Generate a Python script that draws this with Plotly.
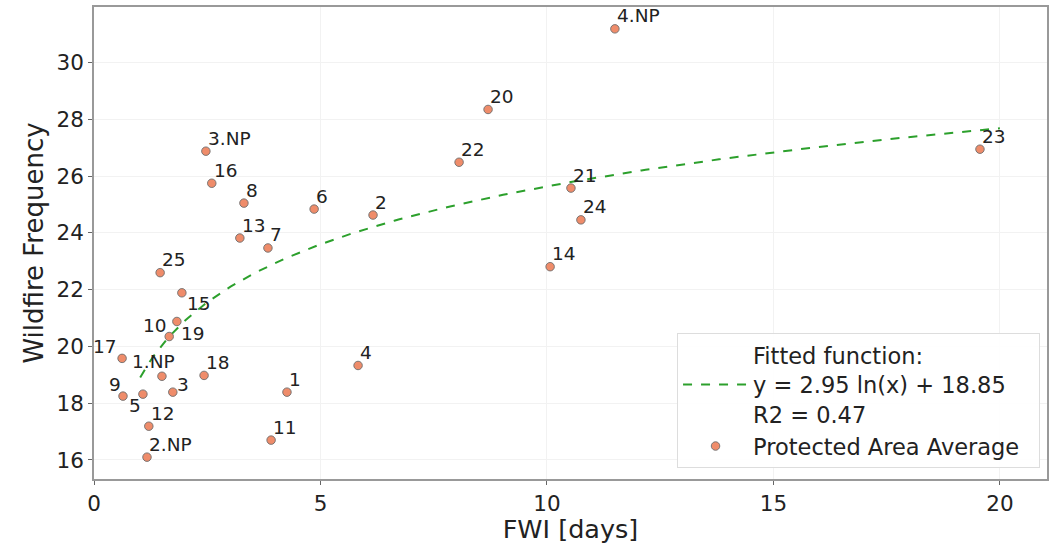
import plotly.graph_objects as go
import numpy as np

labels = ["4.NP", "20", "23", "3.NP", "22", "16", "21", "8", "6", "2", "24", "13", "7", "14",
          "25", "15", "10", "19", "17", "1.NP", "18", "9", "5", "3", "12", "2.NP", "1", "11", "4"]
fwi = [11.50, 8.70, 19.56, 2.47, 8.06, 2.60, 10.53, 3.31, 4.86, 6.16, 10.75, 3.22, 3.84, 10.07,
       1.46, 1.94, 1.83, 1.66, 0.62, 1.50, 2.43, 0.64, 1.08, 1.74, 1.21, 1.17, 4.26, 3.91, 5.83]
freq = [31.19, 28.35, 26.95, 26.88, 26.49, 25.75, 25.58, 25.05, 24.84, 24.63, 24.46, 23.82, 23.47, 22.81,
        22.60, 21.89, 20.88, 20.35, 19.58, 18.95, 18.98, 18.25, 18.32, 18.39, 17.19, 16.10, 18.39, 16.70, 19.33]

fit_a = 2.95
fit_b = 18.85
fit_r2 = 0.47
fit_x_start = 1.02
fit_x_end = 20.0

fx = np.linspace(fit_x_start, fit_x_end, 200)
fy = fit_a * np.log(fx) + fit_b

# label placement tweaks (pixel offsets / anchors) to mimic the reference
label_style = {
    "17": dict(xanchor="right", xshift=-3, yshift=12),
    "1.NP": dict(xanchor="left", xshift=-32, yshift=15),
    "9": dict(xanchor="right", xshift=0, yshift=12),
    "5": dict(xanchor="right", xshift=0, yshift=-11),
    "10": dict(xanchor="right", xshift=-8, yshift=-4),
    "19": dict(xanchor="left", xshift=10, yshift=3),
    "15": dict(xanchor="left", xshift=3, yshift=-11),
    "3": dict(xanchor="left", xshift=2, yshift=8),
}

FONT = "DejaVu Sans"
TXT = "#222"
PAD = "&nbsp;&nbsp;"  # invisible right padding inside the legend box

fig = go.Figure()
fig.add_trace(go.Scatter(
    x=fx, y=fy, mode="lines",
    line=dict(color="#2ca02c", width=2, dash="dash"),
    name=f"Fitted function:<br>y = {fit_a:.2f} ln(x) + {fit_b:.2f}<br>R2 = {fit_r2:.2f}",
))
fig.add_trace(go.Scatter(
    x=fwi, y=freq, mode="markers",
    marker=dict(size=8.5, color="rgba(236,120,80,0.85)", line=dict(color="rgba(110,110,110,0.9)", width=1)),
    name="Protected Area Average" + PAD,
))

for lab, xv, yv in zip(labels, fwi, freq):
    st = dict(xanchor="left", xshift=0, yshift=13)
    st.update(label_style.get(lab, {}))
    fig.add_annotation(x=xv, y=yv, text=lab, showarrow=False, yanchor="middle",
                       font=dict(size=18.5, color=TXT, family=FONT), **st)

axis_common = dict(
    showline=True, mirror=True, linecolor="#999", linewidth=1.5,
    ticks="outside", ticklen=4, tickcolor="#666",
    showgrid=True, gridcolor="#f2f2f2", zeroline=False,
    tickfont=dict(size=21.5, color=TXT, family=FONT),
)
fig.update_xaxes(range=[0, 21.04], tickvals=[0, 5, 10, 15, 20],
                 title=dict(text="FWI [days]", font=dict(size=25.5, color=TXT, family=FONT), standoff=4),
                 **axis_common)
fig.update_yaxes(range=[15.33, 31.96], tickvals=[16, 18, 20, 22, 24, 26, 28, 30],
                 title=dict(text="Wildfire Frequency", font=dict(size=26, color=TXT, family=FONT), standoff=5),
                 **axis_common)

fig.update_layout(
    width=1054, height=544,
    margin=dict(l=94, r=7, t=5, b=65),
    plot_bgcolor="white", paper_bgcolor="white",
    font=dict(family=FONT, color=TXT),
    legend=dict(x=0.9927, y=0.023, xanchor="right", yanchor="bottom",
                bgcolor="rgba(255,255,255,0.9)", bordercolor="#ddd", borderwidth=1,
                font=dict(size=22.5, color=TXT, family=FONT),
                itemwidth=65, tracegroupgap=4),
)

fig.write_html("out.html")
